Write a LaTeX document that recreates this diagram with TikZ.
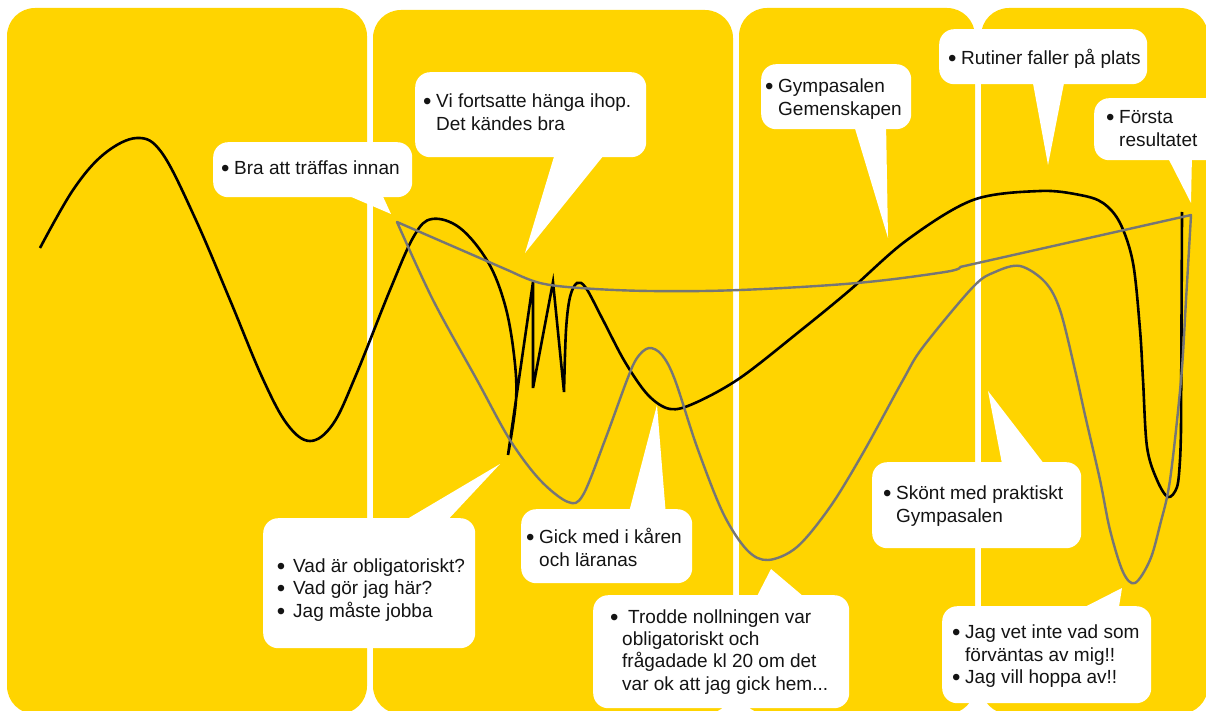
\documentclass[tikz,border=0pt]{standalone}
\usepackage{fontspec}
\setmainfont{Liberation Sans}
\definecolor{panelyellow}{RGB}{255,212,0}
\definecolor{curvegray}{RGB}{118,118,118}
\definecolor{inkblack}{RGB}{20,20,20}
\newcommand\bl[1][4.8pt]{\llap{\raisebox{-2pt}{\fontsize{24}{24}\selectfont •}\hspace{#1}}}
\begin{document}
\begin{tikzpicture}[x=1pt,y=-1pt,
  panel/.style={fill=panelyellow, rounded corners=28pt},
  cbox/.style={fill=white, rounded corners=15pt, inner sep=0pt, anchor=north west, draw=none},
  ptr/.style={fill=white},
  txt/.style={anchor=base west, inner sep=0pt, text=inkblack, font=\fontsize{19}{22.7}\selectfont},
  blackcurve/.style={draw=black, line width=2.6pt},
  graycurve/.style={draw=curvegray, line width=2.4pt, line join=round}]
\useasboundingbox (0,0) rectangle (1206,711);
\clip (0,0) rectangle (1206,711);
% panels
\fill[panel] (7,8) rectangle (367,714);
\fill[panel] (373,10) rectangle (733,714);
\fill[panel] (739,8) rectangle (975,714);
\fill[panel] (981,8) rectangle (1208,714);
% callout boxes
\node[cbox, minimum width=199pt, minimum height=55pt] (b1) at (213,142) {};
\node[cbox, minimum width=231pt, minimum height=85pt] (b2) at (415,72) {};
\node[cbox, minimum width=150pt, minimum height=65pt] (b3) at (761,64) {};
\node[cbox, minimum width=208pt, minimum height=55pt] (b4) at (939,29) {};
\node[cbox, minimum width=130pt, minimum height=62pt] (b5) at (1094,98) {};
\node[cbox, minimum width=212pt, minimum height=130pt] (b6) at (263,518) {};
\node[cbox, minimum width=171pt, minimum height=74pt] (b7) at (521,509) {};
\node[cbox, minimum width=256pt, minimum height=113pt] (b8) at (593,595) {};
\node[cbox, minimum width=209pt, minimum height=86pt] (b9) at (872,462) {};
\node[cbox, minimum width=209pt, minimum height=97pt] (b10) at (942,606) {};
% pointer tips
\coordinate (p1) at (391,214);
\coordinate (p2) at (525,253);
\coordinate (p3) at (888,238);
\coordinate (p4) at (1048,165);
\coordinate (p5) at (1191,203);
\coordinate (p6) at (500,464);
\coordinate (p7) at (657,405);
\coordinate (p8) at (771,569);
\coordinate (p9) at (988,391);
\coordinate (p10) at (1122,588);
\fill[ptr] (335,190) -- (p1) -- (380,190) -- cycle;
\fill[ptr] (556,150) -- (p2) -- (608,150) -- cycle;
\fill[ptr] (853,122) -- (p3) -- (886,122) -- cycle;
\fill[ptr] (1032,78) -- (p4) -- (1065,78) -- cycle;
\fill[ptr] (1166,154) -- (p5) -- (1192,154) -- cycle;
\fill[ptr] (397,525) -- (p6) -- (443,525) -- cycle;
\fill[ptr] (628,516) -- (p7) -- (666,516) -- cycle;
\fill[ptr] (754,602) -- (p8) -- (810,602) -- cycle;
\fill[ptr] (1003,469) -- (p9) -- (1048,469) -- cycle;
\fill[ptr] (1073,613) -- (p10) -- (1118,613) -- cycle;
% curves
\draw[blackcurve] plot[smooth, tension=0.6] coordinates {(40,248) (73,190) (104,154) (137,138) (162,153) (195,218) (230,300) (262,377) (287,424) (310,441) (333,424) (356,375) (390,290) (414,236) (432,219) (460,228) (488,262) (505,305) (514,355) (516,400) (508,455)}
  -- (533,282) -- (533,388) -- (553,282) -- (564,392)
  -- plot[smooth, tension=0.55] coordinates {(564,392) (566,330) (570,297) (577,283) (586,288) (603,320) (625,362) (648,395) (670,409) (695,403) (740,378) (800,331) (850,290) (907,240) (973,200) (1040,191) (1080,195) (1103,203) (1120,223) (1133,263) (1140,330) (1143,380) (1147,447) (1157,480) (1168,497) (1177,487) (1180,460) (1181,430)}
  -- (1182,212);
\draw[graycurve] (397,222) -- (512,272)
  -- plot[smooth, tension=0.6] coordinates {(512,272) (540,283) (580,288) (650,291) (740,290) (857,283) (945,272) (960,267)}
  -- (1191,215)
  -- plot[smooth, tension=0.55] coordinates {(1191,215) (1186,300) (1181,380) (1170,480) (1160,525) (1150,560) (1135,583) (1123,572) (1110,530) (1100,480) (1085,415) (1075,370) (1060,310) (1045,282) (1020,266) (995,272) (973,287) (923,347) (903,380) (863,453) (830,507) (797,547) (768,560) (747,550) (723,513) (697,447) (675,380) (662,355) (649,348) (637,358) (627,380) (605,440) (583,495) (568,502) (540,480) (510,440) (477,380) (433,300) (397,222)}
  -- cycle;
% texts
\node[txt] (t1) at (234,175) {\bl Bra att träffas innan};
\node[txt] (t2a) at (436,108) {\bl Vi fortsatte hänga ihop.};
\node[txt] (t2b) at (436,131) {Det kändes bra};
\node[txt] (t3a) at (778,93) {\bl Gympasalen};
\node[txt] (t3b) at (778,116) {Gemenskapen};
\node[txt] (t4) at (961,65) {\bl Rutiner faller på plats};
\node[txt] (t5a) at (1119,124) {\bl Första};
\node[txt] (t5b) at (1119,147) {resultatet};
\node[txt] (t6a) at (293,572) {\bl[8pt]Vad är obligatoriskt?};
\node[txt] (t6b) at (293,594) {\bl[8pt]Vad gör jag här?};
\node[txt] (t6c) at (293,617) {\bl[8pt]Jag måste jobba};
\node[txt] (t7a) at (539,543) {\bl Gick med i kåren};
\node[txt] (t7b) at (539,566) {och läranas};
\node[txt] (t8a) at (628,623) {\bl[9.8pt]Trodde nollningen var};
\node[txt] (t8b) at (622,645) {obligatoriskt och};
\node[txt] (t8c) at (622,667) {frågadade kl 20 om det};
\node[txt] (t8d) at (622,690) {var ok att jag gick hem...};
\node[txt] (t9a) at (896,499) {\bl Skönt med praktiskt};
\node[txt] (t9b) at (896,522) {Gympasalen};
\node[txt] (t10a) at (965,638) {\bl Jag vet inte vad som};
\node[txt] (t10b) at (965,661) {förväntas av mig!!};
\node[txt] (t10c) at (965,683) {\bl Jag vill hoppa av!!};
\end{tikzpicture}
\end{document}
